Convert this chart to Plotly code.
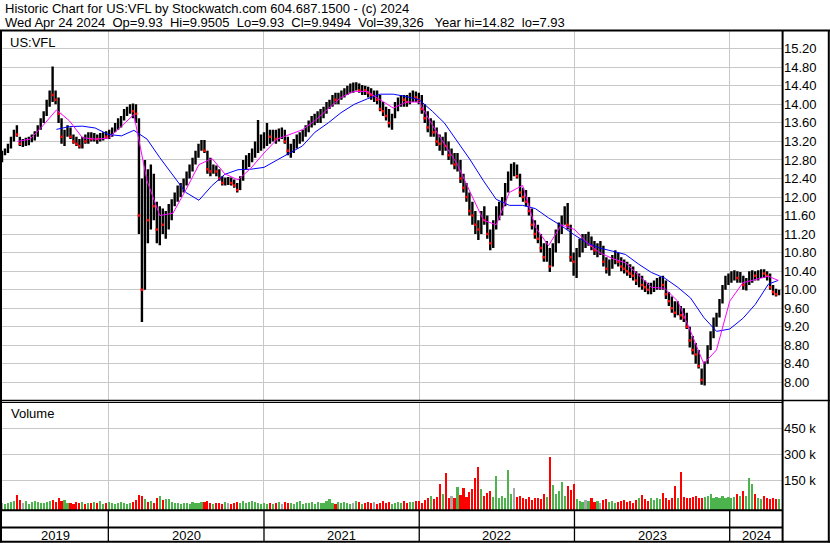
import pandas as pd
import plotly.graph_objects as go

# ------------------------------------------------------------------ data
# weekly bars (week ending Friday), first week ends 2019-04-26
week_start = "2019-04-26"

low_2019 = [12.75, 12.90, 12.95, 13.05, 13.20, 13.30, 13.10, 13.08, 13.10, 13.12,
            13.18, 13.22, 13.30, 13.45, 13.60, 13.75, 13.95, 14.05, 14.00, 13.60,
            13.15, 13.10, 13.30, 13.25, 13.15, 13.10, 13.05, 13.05, 13.15, 13.15,
            13.20, 13.20, 13.15, 13.20, 13.22, 13.25, 13.25]
high_2019 = [13.00, 13.05, 13.15, 13.30, 13.45, 13.55, 13.30, 13.25, 13.28, 13.30,
             13.35, 13.42, 13.55, 13.70, 13.85, 14.10, 14.30, 14.82, 14.30, 14.15,
             13.70, 13.45, 13.55, 13.50, 13.35, 13.30, 13.25, 13.30, 13.35, 13.40,
             13.40, 13.38, 13.35, 13.38, 13.40, 13.42, 13.45]
close_2019 = [12.95, 13.00, 13.10, 13.25, 13.40, 13.35, 13.15, 13.15, 13.20, 13.25,
              13.28, 13.35, 13.50, 13.65, 13.80, 14.00, 14.25, 14.20, 14.10, 13.80,
              13.30, 13.40, 13.45, 13.30, 13.20, 13.15, 13.10, 13.25, 13.20, 13.35,
              13.25, 13.30, 13.25, 13.30, 13.35, 13.30, 13.40]
vol_2019_k = [18, 12, 20, 22, 30, 67, 38, 20, 28, 15,
              22, 30, 25, 18, 20, 25, 30, 35, 25, 47,
              30, 35, 18, 20, 15, 22, 18, 25, 15, 20,
              18, 25, 20, 28, 15, 20, 25]

low_2020 = [13.30, 13.40, 13.45, 13.50, 13.65, 13.75, 13.80, 13.70, 13.60, 11.20,
            9.30, 10.00, 11.00, 11.30, 11.50, 11.00, 10.96, 11.20, 11.10, 11.30,
            11.50, 11.80, 11.90, 12.00, 12.10, 12.25, 12.40, 12.55, 12.70, 12.85,
            13.00, 12.95, 12.50, 12.45, 12.50, 12.45, 12.35, 12.25, 12.25, 12.26,
            12.25, 12.20, 12.10, 12.15, 12.35, 12.60, 12.65, 12.75, 12.85, 12.95,
            13.00, 13.05]
high_2020 = [13.50, 13.60, 13.70, 13.75, 13.90, 13.95, 14.00, 14.02, 14.00, 13.70,
             12.40, 12.80, 12.60, 12.70, 12.50, 11.90, 11.80, 11.75, 11.70, 11.85,
             11.95, 12.10, 12.25, 12.30, 12.40, 12.55, 12.70, 12.85, 13.00, 13.15,
             13.23, 13.23, 13.00, 12.85, 12.70, 12.68, 12.60, 12.45, 12.42, 12.43,
             12.42, 12.38, 12.30, 12.45, 12.80, 12.90, 12.95, 13.05, 13.20, 13.66,
             13.35, 13.40]
close_2020 = [13.45, 13.55, 13.60, 13.70, 13.80, 13.90, 13.95, 13.85, 13.80, 11.60,
              10.00, 12.30, 11.50, 12.40, 11.80, 11.30, 11.50, 11.40, 11.60, 11.70,
              11.85, 12.00, 12.10, 12.20, 12.30, 12.45, 12.60, 12.75, 12.90, 13.05,
              13.15, 13.00, 12.60, 12.55, 12.60, 12.55, 12.40, 12.30, 12.35, 12.35,
              12.30, 12.25, 12.15, 12.40, 12.70, 12.80, 12.90, 12.95, 13.10, 13.20,
              13.25, 13.30]
vol_2020_k = [18, 15, 20, 22, 18, 15, 20, 25, 35, 67,
              60, 40, 25, 30, 20, 45, 58, 35, 40, 41,
              25, 20, 18, 15, 20, 18, 15, 22, 18, 20,
              25, 22, 30, 18, 15, 20, 18, 15, 22, 18,
              15, 20, 25, 20, 28, 18, 22, 30, 25, 20,
              15, 18]

low_2021 = [13.10, 13.15, 13.20, 13.15, 13.20, 13.25, 13.15, 12.90, 12.85, 12.95,
            13.05, 13.15, 13.20, 13.30, 13.40, 13.50, 13.55, 13.60, 13.60, 13.70,
            13.80, 13.90, 13.95, 14.00, 14.00, 14.10, 14.15, 14.20, 14.25, 14.25,
            14.30, 14.25, 14.20, 14.20, 14.15, 14.10, 14.05, 14.00, 13.85, 13.75,
            13.65, 13.50, 13.45, 13.70, 13.85, 13.95, 13.95, 13.95, 14.00, 14.05,
            14.05, 14.00]
high_2021 = [13.60, 13.45, 13.45, 13.45, 13.48, 13.50, 13.45, 13.30, 13.15, 13.25,
             13.35, 13.40, 13.45, 13.55, 13.65, 13.75, 13.80, 13.85, 13.90, 13.95,
             14.05, 14.10, 14.20, 14.25, 14.25, 14.30, 14.35, 14.40, 14.45, 14.47,
             14.48, 14.45, 14.42, 14.40, 14.38, 14.35, 14.30, 14.30, 14.20, 14.05,
             13.95, 13.90, 13.80, 14.05, 14.15, 14.20, 14.20, 14.20, 14.25, 14.30,
             14.28, 14.25]
close_2021 = [13.35, 13.30, 13.40, 13.25, 13.40, 13.40, 13.20, 13.00, 13.05, 13.20,
              13.25, 13.30, 13.35, 13.50, 13.60, 13.65, 13.70, 13.75, 13.80, 13.85,
              14.00, 14.05, 14.15, 14.10, 14.20, 14.25, 14.30, 14.35, 14.40, 14.40,
              14.45, 14.30, 14.35, 14.30, 14.25, 14.20, 14.20, 14.10, 13.90, 13.85,
              13.75, 13.60, 13.75, 14.00, 14.10, 14.15, 14.10, 14.05, 14.15, 14.20,
              14.15, 14.10]
vol_2021_k = [15, 20, 12, 18, 22, 15, 25, 18, 20, 15,
              22, 28, 15, 18, 20, 25, 15, 22, 18, 20,
              30, 43, 20, 15, 22, 18, 25, 20, 15, 18,
              28, 22, 15, 20, 25, 18, 22, 15, 20, 28,
              18, 25, 15, 20, 22, 18, 30, 20, 25, 22,
              28, 30]

low_2022 = [13.80, 13.60, 13.40, 13.30, 13.30, 13.10, 13.00, 12.90, 13.00, 12.80,
            12.70, 12.60, 12.55, 12.30, 12.10, 11.90, 11.60, 11.40, 11.20, 11.07,
            11.20, 11.40, 11.10, 10.85, 10.90, 11.30, 11.50, 11.60, 11.80, 12.10,
            12.35, 12.45, 12.40, 12.00, 11.90, 11.80, 11.60, 11.30, 11.10, 11.00,
            10.80, 10.60, 10.60, 10.38, 10.50, 10.80, 11.00, 11.20, 11.40, 11.30,
            10.60, 10.30]
high_2022 = [14.20, 14.00, 13.85, 13.70, 13.65, 13.50, 13.35, 13.30, 13.40, 13.20,
             13.05, 12.95, 12.95, 12.80, 12.50, 12.30, 12.10, 11.90, 11.70, 11.50,
             11.70, 11.80, 11.60, 11.30, 11.50, 11.80, 11.90, 12.00, 12.30, 12.55,
             12.72, 12.75, 12.70, 12.50, 12.20, 12.15, 12.00, 11.75, 11.50, 11.40,
             11.20, 11.00, 11.05, 10.90, 11.00, 11.30, 11.45, 11.60, 11.80, 11.87,
             11.40, 10.80]
close_2022 = [13.90, 13.70, 13.50, 13.55, 13.40, 13.20, 13.15, 13.20, 13.10, 12.90,
              12.90, 12.70, 12.80, 12.40, 12.20, 12.00, 11.70, 11.60, 11.40, 11.30,
              11.60, 11.50, 11.20, 11.00, 11.40, 11.70, 11.80, 11.90, 12.20, 12.50,
              12.60, 12.60, 12.45, 12.10, 12.00, 11.90, 11.70, 11.40, 11.20, 11.10,
              10.90, 10.70, 10.90, 10.50, 10.90, 11.20, 11.30, 11.50, 11.60, 11.40,
              10.70, 10.60]
vol_2022_k = [20, 35, 45, 60, 40, 55, 129, 70, 193, 50,
              60, 45, 112, 65, 107, 55, 80, 100, 164, 228,
              98, 60, 75, 90, 55, 174, 50, 60, 45, 210,
              70, 107, 55, 60, 45, 40, 55, 35, 50, 45,
              40, 69, 55, 284, 124, 70, 90, 138, 60, 119,
              95, 129]

low_2023 = [10.25, 10.70, 10.80, 10.90, 10.95, 10.85, 10.75, 10.70, 10.75, 10.50,
            10.35, 10.30, 10.45, 10.55, 10.50, 10.40, 10.35, 10.30, 10.25, 10.20,
            10.10, 10.05, 10.00, 9.95, 9.90, 9.90, 9.95, 10.00, 10.00, 10.00,
            9.80, 9.65, 9.50, 9.40, 9.45, 9.35, 9.30, 9.15, 8.75, 8.60,
            8.40, 8.30, 7.95, 7.93, 8.40, 8.70, 8.95, 9.20, 9.40, 9.70,
            10.00, 10.10]
high_2023 = [10.90, 11.10, 11.20, 11.20, 11.25, 11.15, 11.05, 11.00, 11.05, 10.95,
             10.70, 10.65, 10.75, 10.85, 10.80, 10.70, 10.65, 10.60, 10.55, 10.50,
             10.40, 10.35, 10.30, 10.20, 10.15, 10.15, 10.20, 10.25, 10.28, 10.30,
             10.20, 9.95, 9.85, 9.75, 9.75, 9.65, 9.60, 9.50, 9.20, 9.00,
             8.85, 8.70, 8.30, 8.45, 8.80, 9.10, 9.40, 9.50, 9.80, 10.10,
             10.30, 10.35]
close_2023 = [10.80, 11.00, 11.10, 11.10, 11.15, 10.95, 10.85, 10.90, 10.90, 10.60,
              10.45, 10.55, 10.65, 10.75, 10.60, 10.50, 10.45, 10.40, 10.35, 10.30,
              10.20, 10.25, 10.10, 10.05, 10.00, 10.05, 10.10, 10.15, 10.20, 10.10,
              9.90, 9.75, 9.60, 9.50, 9.60, 9.45, 9.40, 9.20, 8.90, 8.70,
              8.60, 8.35, 8.05, 8.40, 8.70, 9.00, 9.30, 9.45, 9.75, 10.05,
              10.20, 10.25]
vol_2023_k = [40, 30, 25, 35, 30, 45, 25, 30, 20, 35,
              40, 25, 30, 20, 25, 30, 35, 25, 30, 20,
              35, 45, 67, 40, 30, 45, 35, 50, 40, 76,
              45, 35, 50, 119, 45, 198, 55, 45, 50, 55,
              60, 45, 50, 55, 60, 69, 50, 55, 45, 60,
              50, 55]

low_2024 = [10.15, 10.20, 10.15, 10.15, 10.00, 9.98, 10.10, 10.15, 10.20, 10.20,
            10.25, 10.25, 10.20, 10.00, 9.88, 9.85, 9.88]
high_2024 = [10.40, 10.42, 10.40, 10.38, 10.30, 10.25, 10.40, 10.42, 10.40, 10.42,
             10.44, 10.44, 10.40, 10.35, 10.10, 10.02, 10.00]
close_2024 = [10.30, 10.35, 10.25, 10.30, 10.10, 10.15, 10.30, 10.35, 10.30, 10.35,
              10.40, 10.35, 10.30, 10.05, 9.95, 9.90, 9.95]
vol_2024_k = [45, 55, 70, 60, 90, 60, 164, 129, 70, 45,
              40, 59, 45, 40, 45, 40, 39]

# moving averages, first of each month
fast_ma_start = "2019-06-01"
fast_ma = [13.20, 13.25, 13.55, 13.88, 13.65, 13.28, 13.25,
           13.27, 13.53, 13.78, 12.35, 11.60, 11.65, 12.15, 12.70, 12.83, 12.50, 12.37, 12.62,
           12.95, 13.25, 13.34, 13.45, 13.65, 13.90, 14.15, 14.28, 14.28, 14.10, 13.92, 14.05,
           14.05, 13.55, 13.15, 12.70, 12.10, 11.50, 11.40, 12.10, 12.25, 11.35, 10.95, 11.40,
           11.30, 11.00, 10.80, 10.67, 10.58, 10.30, 10.05, 10.03, 9.75, 9.10, 8.40, 8.70,
           9.75, 10.15, 10.22, 10.29]
slow_ma_start = "2019-09-01"
slow_ma = [13.46, 13.52, 13.53, 13.49,
           13.35, 13.32, 13.44, 13.25, 12.85, 12.48, 12.10, 11.93, 12.25, 12.49, 12.59, 12.60,
           12.64, 12.80, 12.95, 13.10, 13.40, 13.60, 13.82, 14.00, 14.12, 14.22, 14.22, 14.17,
           14.10, 13.85, 13.60, 13.20, 12.80, 12.35, 11.95, 11.82, 11.82, 11.75, 11.55, 11.38,
           11.18, 11.00, 10.90, 10.83, 10.76, 10.55, 10.37, 10.25, 10.05, 9.82, 9.40, 9.10,
           9.15, 9.38, 9.68, 10.12]
ma_last_date = "2024-04-24"
fast_ma_last = 10.20
slow_ma_last = 10.20

price_ticks = [8.00, 8.40, 8.80, 9.20, 9.60, 10.00, 10.40, 10.80, 11.20, 11.60,
               12.00, 12.40, 12.80, 13.20, 13.60, 14.00, 14.40, 14.80, 15.20]
volume_ticks = [150000, 300000, 450000]
volume_tick_text = ["150 k", "300 k", "450 k"]
years = [2019, 2020, 2021, 2022, 2023, 2024]

title_line1 = "Historic Chart for US:VFL by Stockwatch.com 604.687.1500 - (c) 2024"
title_line2 = ("Wed Apr 24 2024\u00a0\u00a0Op=9.93\u00a0\u00a0Hi=9.9505\u00a0\u00a0Lo=9.93"
               "\u00a0\u00a0Cl=9.9494\u00a0\u00a0Vol=39,326\u00a0\u00a0\u00a0Year hi=14.82\u00a0\u00a0lo=7.93")
symbol_label = "US:VFL"
volume_label = "Volume"

# ------------------------------------------------------------------ assemble
lows = low_2019 + low_2020 + low_2021 + low_2022 + low_2023 + low_2024
highs = high_2019 + high_2020 + high_2021 + high_2022 + high_2023 + high_2024
closes = close_2019 + close_2020 + close_2021 + close_2022 + close_2023 + close_2024
vols = [v * 1000 for v in vol_2019_k + vol_2020_k + vol_2021_k + vol_2022_k + vol_2023_k + vol_2024_k]
n = min(len(lows), len(highs), len(closes), len(vols))
lows, highs, closes, vols = lows[:n], highs[:n], closes[:n], vols[:n]
dates = pd.date_range(week_start, periods=n, freq="7D")
opens = [closes[0]] + closes[:-1]

fast_dates = list(pd.date_range(fast_ma_start, periods=len(fast_ma), freq="MS")) + [pd.Timestamp(ma_last_date)]
slow_dates = list(pd.date_range(slow_ma_start, periods=len(slow_ma), freq="MS")) + [pd.Timestamp(ma_last_date)]
fast_vals = fast_ma + [fast_ma_last]
slow_vals = slow_ma + [slow_ma_last]

GREEN, RED, GREY = "#4db34d", "#ff0000", "#a8a8a8"
vol_colors = []
for c, o in zip(closes, opens):
    vol_colors.append(GREEN if c > o else (RED if c < o else GREY))

# ------------------------------------------------------------------ geometry
W, H = 830, 543
L, R, T, B = 2, 47, 31, 33
PW, PH = W - L - R, H - T - B


def px(x):
    return (x - L) / PW


def py(y):
    return (H - B - y) / PH


FONT = "Liberation Sans, Arial, sans-serif"
GRID = "#c8c8c8"
x_range = ["2019-04-26", "2024-05-05 07:00"]
price_range = [7.603, 15.584]
VOL_BOTTOM = -24000
vol_range = [VOL_BOTTOM, 598600]

fig = go.Figure()
fig.add_trace(go.Ohlc(
    x=dates, open=opens, high=highs, low=lows, close=closes,
    increasing=dict(line=dict(color="black", width=2.4)),
    decreasing=dict(line=dict(color="black", width=2.4)),
    tickwidth=0.05, xaxis="x", yaxis="y", hoverinfo="skip", showlegend=False))
down = [(d, c) for d, c, o in zip(dates, closes, opens) if c < o]
fig.add_trace(go.Scatter(
    x=[d for d, _ in down], y=[c for _, c in down], mode="markers",
    marker=dict(symbol="square", size=2.5, color="red", line=dict(width=0)),
    xaxis="x", yaxis="y", hoverinfo="skip", showlegend=False))
fig.add_trace(go.Scatter(x=slow_dates, y=slow_vals, mode="lines",
                         line=dict(color="#0000ff", width=1), xaxis="x", yaxis="y",
                         hoverinfo="skip", showlegend=False))
fig.add_trace(go.Scatter(x=fast_dates, y=fast_vals, mode="lines",
                         line=dict(color="#ff00ff", width=1), xaxis="x", yaxis="y",
                         hoverinfo="skip", showlegend=False))
fig.add_trace(go.Bar(
    x=dates, y=[v - VOL_BOTTOM for v in vols], base=VOL_BOTTOM,
    marker=dict(color=vol_colors, line=dict(width=0)), width=5 * 86400000,
    xaxis="x2", yaxis="y2", hoverinfo="skip", showlegend=False))

year_starts = [pd.Timestamp(f"{y}-01-01") for y in years[1:]]

xaxis_common = dict(type="date", range=x_range, tickvals=year_starts, showticklabels=False,
                    showgrid=True, gridcolor=GRID, gridwidth=1, zeroline=False,
                    showline=False, ticks="", fixedrange=True)
yaxis_common = dict(side="right", showgrid=True, gridcolor=GRID, gridwidth=1, zeroline=False,
                    showline=False, ticks="", automargin=False, fixedrange=True,
                    tickfont=dict(family=FONT, size=13, color="black"))

fig.update_layout(
    width=W, height=H,
    margin=dict(l=L, r=R, t=T, b=B, pad=0, autoexpand=False),
    paper_bgcolor="white", plot_bgcolor="white", showlegend=False,
    font=dict(family=FONT, size=13, color="black"),
    bargap=0,
    xaxis=dict(domain=[0, 1], anchor="y", rangeslider=dict(visible=False), **xaxis_common),
    xaxis2=dict(domain=[0, 1], anchor="y2", **xaxis_common),
    yaxis=dict(domain=[py(400.7), 1], anchor="x", range=price_range, tickvals=price_ticks,
               ticktext=[f"{v:.2f}" for v in price_ticks], **yaxis_common),
    yaxis2=dict(domain=[0, py(402.7)], anchor="x2", range=vol_range, tickvals=volume_ticks,
                ticktext=volume_tick_text, **yaxis_common),
)

shapes = []


def hline(y, x0, x1, w):
    shapes.append(dict(type="line", xref="paper", yref="paper", x0=px(x0), x1=px(x1),
                       y0=py(y), y1=py(y), line=dict(color="black", width=w)))


def vline(x, y0, y1, w):
    shapes.append(dict(type="line", xref="paper", yref="paper", x0=px(x), x1=px(x),
                       y0=py(y0), y1=py(y1), line=dict(color="black", width=w)))


hline(30.5, 0, 830, 2)
hline(400.5, 0, 830, 1.7)
hline(402.5, 0, 783, 1)
hline(510.3, 0, 783, 2)
hline(527.6, 0, 783, 2)
hline(541.7, 0, 830, 2)
vline(1, 30, 542.5, 2)
vline(782.6, 30, 542.5, 2)
vline(828.8, 30, 542.5, 2)
for ys in year_starts:
    shapes.append(dict(type="line", xref="x2", yref="paper", x0=ys, x1=ys,
                       y0=py(510.5), y1=py(541.5), line=dict(color="black", width=1.3)))
fig.update_layout(shapes=shapes)

annotations = [
    dict(text=title_line1, x=px(2.5), y=py(8.5)),
    dict(text=title_line2, x=px(2.5), y=py(23)),
    dict(text=symbol_label, x=px(8), y=py(42)),
    dict(text=volume_label, x=px(9), y=py(413.5)),
]
for a in annotations:
    a.update(xref="paper", yref="paper", xanchor="left", yanchor="middle", showarrow=False,
             font=dict(family=FONT, size=13, color="black"))

x0, x1 = pd.Timestamp(x_range[0]), pd.Timestamp(x_range[1])
for yr in years:
    a = max(pd.Timestamp(f"{yr}-01-01"), x0)
    b = min(pd.Timestamp(f"{yr + 1}-01-01"), x1)
    annotations.append(dict(text=str(yr), x=a + (b - a) / 2, y=py(535), xref="x2", yref="paper",
                            xanchor="center", yanchor="middle", showarrow=False,
                            font=dict(family=FONT, size=13, color="black")))
fig.update_layout(annotations=annotations)

page_fix = "document.body.style.margin='0';document.body.style.padding='0';document.body.style.overflow='hidden';"
fig.write_html("out.html", post_script=page_fix, config={"displayModeBar": False})
